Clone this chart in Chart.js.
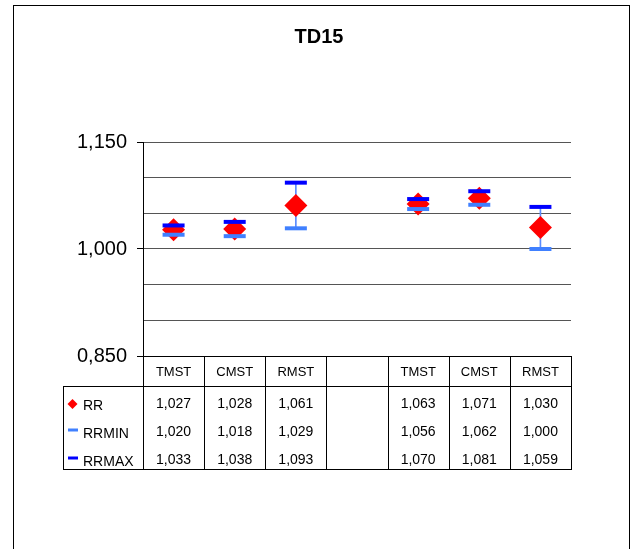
<!DOCTYPE html>
<html>
<head>
<meta charset="utf-8">
<script src="https://cdn.jsdelivr.net/npm/chart.js@4.4.0/dist/chart.umd.min.js"></script>
<style>
  html, body { margin: 0; padding: 0; background: #fff; }
  #wrap { position: relative; width: 638px; height: 549px; overflow: hidden; }
  #frame {
    position: absolute; left: 13px; top: 5px; width: 617px; height: 600px;
    border: 1.5px solid #000; box-sizing: border-box;
  }
  canvas { position: absolute; left: 0; top: 0; }
</style>
</head>
<body>
<div id="wrap">
  <div id="frame"></div>
  <canvas id="chart" width="638" height="549"></canvas>
</div>
<script>
// TD15 — RR 와 RRMIN/RRMAX 범위, 아래에 데이터 표
const TITLE = "TD15";
const CATEGORIES = ["TMST", "CMST", "RMST", "", "TMST", "CMST", "RMST"];
const RR = [1.027, 1.028, 1.061, null, 1.063, 1.071, 1.030];
const RRMIN = [1.020, 1.018, 1.029, null, 1.056, 1.062, 1.000];
const RRMAX = [1.033, 1.038, 1.093, null, 1.070, 1.081, 1.059];
const Y_TICK_LABELS = [0.85, 1.0, 1.15];

const FONT = '"Liberation Sans", Arial, sans-serif';
const C = {
  rr: "#ff0000",
  min: "#4080ff",
  max: "#0000ff",
  grid: "#555555",
};

const fmt = (v) => (v == null ? "" : v.toFixed(3).replace(".", ","));
const isLabeled = (v) => Y_TICK_LABELS.some((t) => Math.abs(t - v) < 1e-6);

// 표 행 정의 (범례 키 포함)
const ROWS = [
  { name: "RR", values: RR, key: "diamond", color: C.rr },
  { name: "RRMIN", values: RRMIN, key: "dash", color: C.min },
  { name: "RRMAX", values: RRMAX, key: "dash", color: C.max },
];

const tablePlugin = {
  id: "dataTable",
  afterDraw(chart) {
    const { ctx, chartArea: a } = chart;
    const n = CATEGORIES.length;
    const colW = a.width / n;
    const top = a.bottom;
    const headBot = top + 30;
    const bot = top + 113;
    const left = 63;

    ctx.save();
    // 제목
    ctx.fillStyle = "#000";
    ctx.font = `bold 20px ${FONT}`;
    ctx.textAlign = "center";
    ctx.textBaseline = "middle";
    ctx.fillText(TITLE, 319, 37);

    // 표 선
    ctx.strokeStyle = "#000";
    ctx.lineWidth = 1;
    ctx.beginPath();
    for (let i = 0; i <= n; i++) {
      const bx = Math.round(a.left + i * colW) + 0.5;
      ctx.moveTo(bx, top);
      ctx.lineTo(bx, bot);
    }
    ctx.moveTo(left, headBot + 0.5);
    ctx.lineTo(a.right + 1, headBot + 0.5);
    ctx.moveTo(left, bot + 0.5);
    ctx.lineTo(a.right + 1, bot + 0.5);
    ctx.moveTo(left + 0.5, headBot);
    ctx.lineTo(left + 0.5, bot);
    ctx.stroke();

    // 헤더
    const xs = chart.scales.x;
    ctx.font = `13px ${FONT}`;
    ctx.fillStyle = "#000";
    CATEGORIES.forEach((c, i) => {
      ctx.fillText(c, xs.getPixelForValue(i), top + 16);
    });

    // 데이터 행
    ROWS.forEach((row, r) => {
      const cy = headBot + 18 + r * 28;
      ctx.font = `14px ${FONT}`;
      ctx.textAlign = "center";
      ctx.fillStyle = "#000";
      row.values.forEach((v, i) => {
        ctx.fillText(fmt(v), xs.getPixelForValue(i), cy);
      });
      // 범례 키
      ctx.fillStyle = row.color;
      ctx.strokeStyle = row.color;
      if (row.key === "diamond") {
        ctx.beginPath();
        ctx.moveTo(72.5, cy - 5);
        ctx.lineTo(77.5, cy);
        ctx.lineTo(72.5, cy + 5);
        ctx.lineTo(67.5, cy);
        ctx.closePath();
        ctx.fill();
      } else {
        ctx.lineWidth = 3;
        ctx.beginPath();
        ctx.moveTo(68, cy - 2);
        ctx.lineTo(78, cy - 2);
        ctx.stroke();
      }
      ctx.fillStyle = "#000";
      ctx.textAlign = "left";
      ctx.font = `14px ${FONT}`;
      ctx.fillText(row.name, 83, cy + 2);
    });
    ctx.restore();
  },
};

new Chart(document.getElementById("chart").getContext("2d"), {
  type: "bar",
  data: {
    labels: CATEGORIES,
    datasets: [
      {
        type: "line",
        label: "RRMAX",
        data: RRMAX,
        showLine: false,
        pointStyle: "line",
        pointRadius: 11,
        pointBorderWidth: 4,
        borderColor: C.max,
        backgroundColor: C.max,
        order: 1,
      },
      {
        type: "line",
        label: "RRMIN",
        data: RRMIN,
        showLine: false,
        pointStyle: "line",
        pointRadius: 11,
        pointBorderWidth: 4,
        borderColor: C.min,
        backgroundColor: C.min,
        order: 2,
      },
      {
        type: "line",
        label: "RR",
        data: RR,
        showLine: false,
        pointStyle: "rectRot",
        pointRadius: 11.5,
        pointBorderWidth: 0,
        borderColor: C.rr,
        backgroundColor: C.rr,
        order: 3,
      },
      {
        type: "bar",
        label: "range",
        data: RRMIN.map((v, i) => (v == null ? null : [v, RRMAX[i]])),
        barThickness: 1,
        backgroundColor: "#5a8cff",
        order: 4,
      },
    ],
  },
  options: {
    responsive: false,
    animation: false,
    layout: { padding: { left: 0, right: 67, top: 142, bottom: 0 } },
    plugins: { legend: { display: false }, tooltip: { enabled: false } },
    scales: {
      x: {
        offset: true,
        ticks: { display: false },
        grid: { display: false },
        border: { display: true, color: "#000", width: 1 },
        afterFit: (s) => { s.height = 193; },
      },
      y: {
        min: 0.85,
        max: 1.15,
        ticks: {
          stepSize: 0.05,
          padding: 10,
          color: "#000",
          font: { family: FONT, size: 20 },
          callback: (v) => (isLabeled(v) ? fmt(v) : ""),
        },
        grid: {
          color: C.grid,
          lineWidth: 1,
          tickLength: 6,
          tickColor: (ctx) => (ctx.tick && isLabeled(ctx.tick.value) ? "#000" : "rgba(0,0,0,0)"),
        },
        border: { display: true, color: "#000", width: 1 },
        afterFit: (s) => { s.width = 143; },
      },
    },
  },
  plugins: [tablePlugin],
});
</script>
</body>
</html>
